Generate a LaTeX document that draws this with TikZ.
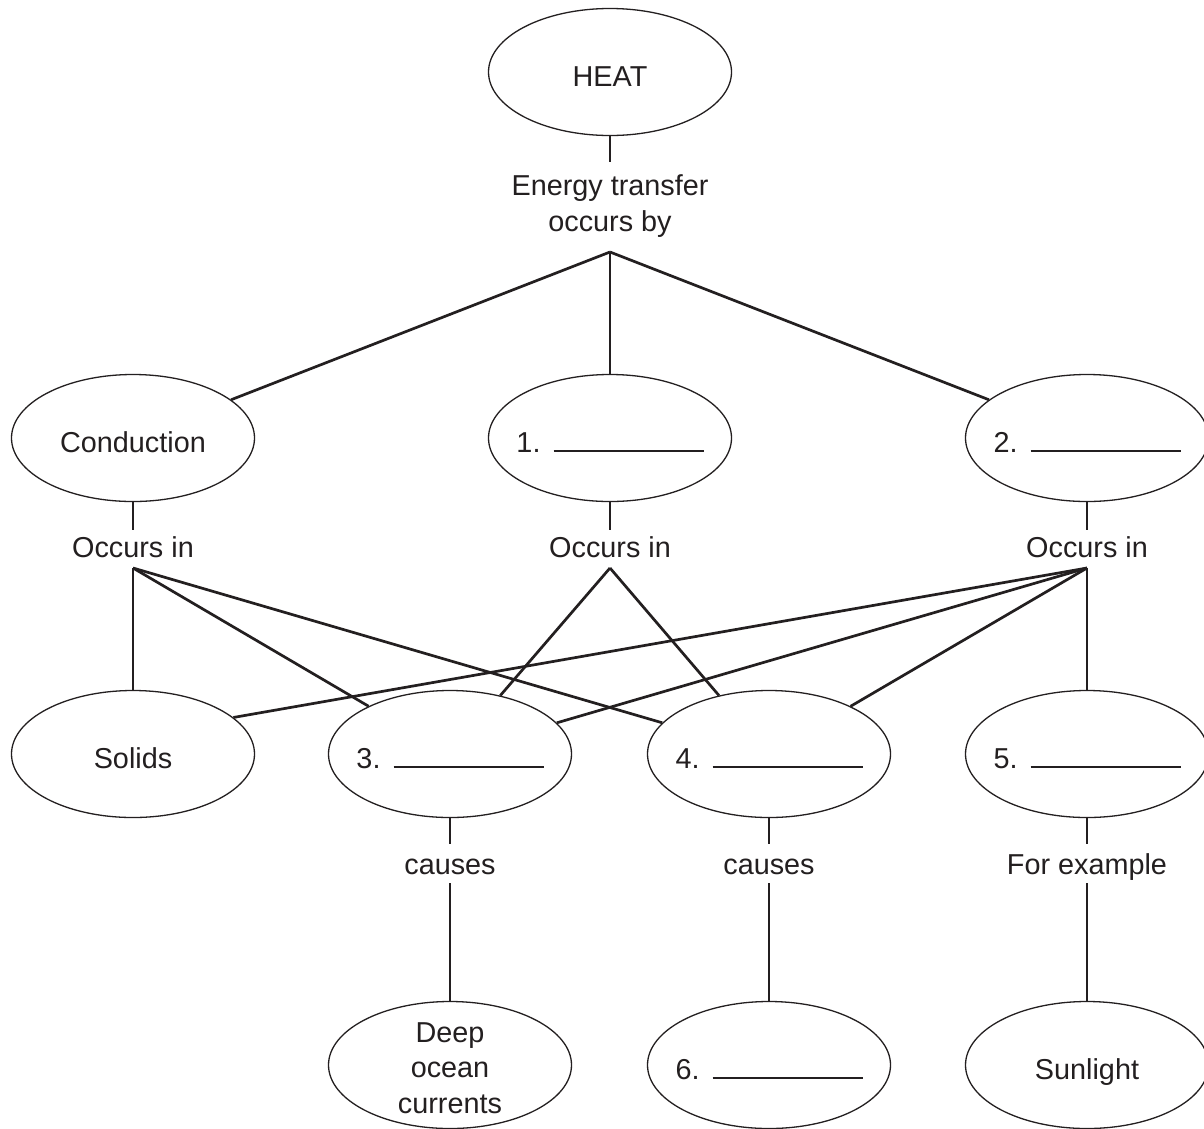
\documentclass[tikz,border=0pt]{standalone}
\usepackage{fontspec}
\setmainfont{Liberation Sans}
\usetikzlibrary{shapes.geometric}
\definecolor{ink}{RGB}{35,31,32}
\newcommand\lblfont{\fontsize{28.8}{35.5}\selectfont}
% numbered answer field: "n.  ______"
\newcommand\answerfield[1]{\makebox[0pt]{#1.\hspace{13pt}\rule{150pt}{2.2pt}}}
\begin{document}
\begin{tikzpicture}[x=1pt,y=-1pt,
  bubble/.style={ellipse, draw=ink, line width=1.3pt, minimum width=243pt,
    minimum height=127pt, inner sep=0pt, text height=28pt, text depth=0pt,
    font=\lblfont, text=ink},
  linklabel/.style={anchor=base, inner sep=0pt, font=\lblfont, text=ink},
  link/.style={draw=ink, line width=2.7pt}]
\useasboundingbox[fill=white] (0,0) rectangle (1204,1128);

% concept ellipses
\node[bubble] (heat) at (610,72) {\makebox[0pt]{HEAT}};
\node[bubble] (cond) at (133,438) {\makebox[0pt]{Conduction}};
\node[bubble] (b1) at (610,438) {\answerfield{1}};
\node[bubble] (b2) at (1087,438) {\answerfield{2}};
\node[bubble] (solids) at (133,754) {\makebox[0pt]{Solids}};
\node[bubble] (b3) at (450,754) {\answerfield{3}};
\node[bubble] (b4) at (769,754) {\answerfield{4}};
\node[bubble] (b5) at (1087,754) {\answerfield{5}};
\node[bubble] (deep) at (450,1065) {};
\node[inner sep=0pt, align=center, font=\lblfont, text=ink] (deeptext) at (450,1068)
  {Deep\\ocean\\currents};
\node[bubble] (b6) at (769,1065) {\answerfield{6}};
\node[bubble] (sun) at (1087,1065) {\makebox[0pt]{Sunlight}};

% linking phrases
\node[inner sep=0pt, align=center, font=\lblfont, text=ink] (transfer) at (610,206)
  {Energy transfer\\occurs by};
\node[linklabel] (occ1) at (133,557) {Occurs in};
\node[linklabel] (occ2) at (610,557) {Occurs in};
\node[linklabel] (occ3) at (1087,557) {Occurs in};
\node[linklabel] (cause3) at (450,874) {causes};
\node[linklabel] (cause4) at (769,874) {causes};
\node[linklabel] (example) at (1087,874) {For example};

% stub ends and branch points
\coordinate (heatstub) at (610,162);
\coordinate (hub0) at (610,252);
\coordinate (condstub) at (133,530);
\coordinate (hub1) at (133,568);
\coordinate (b1stub) at (610,530);
\coordinate (hub2) at (610,568);
\coordinate (b2stub) at (1087,530);
\coordinate (hub3) at (1087,568);
\coordinate (b3stub) at (450,844);
\coordinate (b3foot) at (450,883);
\coordinate (b4stub) at (769,844);
\coordinate (b4foot) at (769,883);
\coordinate (b5stub) at (1087,844);
\coordinate (b5foot) at (1087,883);

% connectors
\draw[link] (heat) -- (heatstub);
\draw[link] (hub0) -- (cond);
\draw[link] (hub0) -- (b1);
\draw[link] (hub0) -- (b2);

\draw[link] (cond) -- (condstub);
\draw[link] (b1) -- (b1stub);
\draw[link] (b2) -- (b2stub);

\draw[link] (hub1) -- (solids);
\draw[link] (hub1) -- (b3);
\draw[link] (hub1) -- (b4);
\draw[link] (hub2) -- (b3);
\draw[link] (hub2) -- (b4);
\draw[link] (hub3) -- (solids.20);
\draw[link] (hub3) -- (b3);
\draw[link] (hub3) -- (b4);
\draw[link] (hub3) -- (b5);

\draw[link] (b3) -- (b3stub);
\draw[link] (b3foot) -- (deep);
\draw[link] (b4) -- (b4stub);
\draw[link] (b4foot) -- (b6);
\draw[link] (b5) -- (b5stub);
\draw[link] (b5foot) -- (sun);
\end{tikzpicture}
\end{document}
